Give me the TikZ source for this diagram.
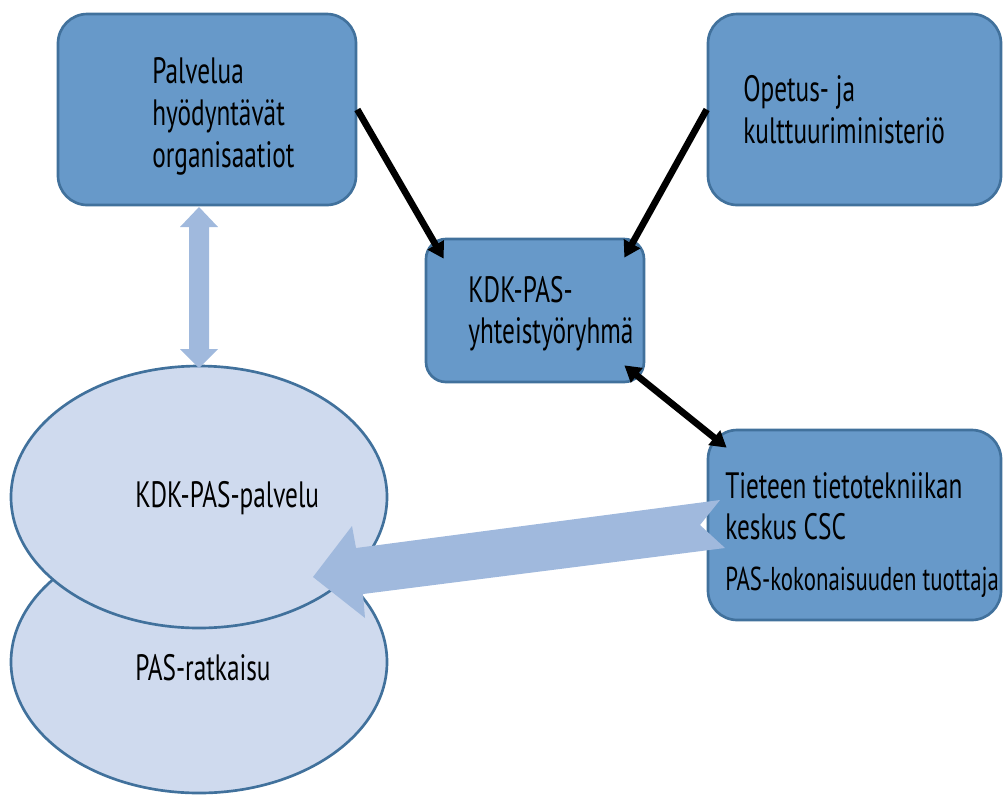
\documentclass[tikz,border=0pt]{standalone}
\usepackage{fontspec}
\setmainfont{PT Sans}[FakeStretch=0.69]
\usetikzlibrary{arrows.meta,shapes.geometric}
\definecolor{boxfill}{RGB}{103,153,201}
\definecolor{boxline}{RGB}{65,113,156}
\definecolor{ellfill}{RGB}{207,218,238}
\definecolor{blockfill}{RGB}{160,185,221}
\tikzset{
  box/.style={draw=boxline, line width=2pt, fill=boxfill, rounded corners=22pt, inner sep=0pt},
  smallbox/.style={box, rounded corners=15pt},
  ell/.style={ellipse, draw=boxline, line width=2pt, fill=ellfill, inner sep=0pt, minimum width=376*0.75pt, minimum height=262*0.75pt},
  lbl/.style={anchor=base west, inner sep=0pt, font=\fontsize{27.5pt}{32pt}\selectfont, text=black},
  slbl/.style={lbl, font=\fontsize{24.8pt}{29pt}\selectfont},
  conn/.style={line width=5pt, black, -{Triangle[length=12pt,width=13.5pt]}},
  dconn/.style={line width=5pt, black, {Triangle[length=12pt,width=13.5pt]}-{Triangle[length=12pt,width=13.5pt]}},
  block/.style={fill=blockfill, draw=none}
}
\begin{document}
\begin{tikzpicture}[x=0.75pt, y=-0.75pt]
\useasboundingbox (0,0) rectangle (1003,794);
% ellipses
\node[ell] (sol) at (199,662) {};
\node[ell] (svc) at (199,497) {};
% boxes
\node[box, minimum width=298*0.75pt, minimum height=191*0.75pt] (org) at (207,109.5) {};
\node[box, minimum width=293*0.75pt, minimum height=191*0.75pt] (okm) at (854.5,109.5) {};
\node[smallbox, minimum width=218*0.75pt, minimum height=143*0.75pt] (grp) at (535,310.5) {};
\node[box, minimum width=293*0.75pt, minimum height=190*0.75pt] (csc) at (854.5,525) {};
% texts
\node[lbl] (t1a) at (152,83) {Palvelua};
\node[lbl] (t1b) at (152,125) {hyödyntävät};
\node[lbl] (t1c) at (152,167) {organisaatiot};
\node[lbl] (t2a) at (743,101) {Opetus- ja};
\node[lbl] (t2b) at (743,143) {kulttuuriministeriö};
\node[lbl] (t3a) at (468,302) {KDK-PAS-};
\node[lbl] (t3b) at (468,343) {yhteistyöryhmä};
\node[lbl] (t4a) at (725,498) {Tieteen tietotekniikan};
\node[lbl] (t4b) at (725,539) {keskus CSC};
\node[slbl] (t4c) at (725,590) {PAS-kokonaisuuden tuottaja};
\node[lbl] (t5) at (135,507) {KDK-PAS-palvelu};
\node[lbl] (t6) at (135,680) {PAS-ratkaisu};
% black connectors
\coordinate (a1s) at (org.east);
\coordinate (a1e) at ([shift={(19,21)}]grp.north west);
\coordinate (a2s) at (okm.west);
\coordinate (a2e) at ([shift={(-21,20)}]grp.north east);
\coordinate (a3s) at ([shift={(-21,-18)}]grp.south east);
\coordinate (a3e) at ([shift={(20,19)}]csc.north west);
\draw[conn] (a1s) -- (a1e);
\draw[conn] (a2s) -- (a2e);
\draw[dconn] (a3s) -- (a3e);
% vertical double block arrow
\fill[block] (199,207) -- (218,227) -- (209,227) -- (209,349) -- (218,349) -- (199,368)
  -- (180,349) -- (189,349) -- (189,227) -- (180,227) -- cycle;
% wide block arrow
\fill[block] (720,500) -- (700,525) -- (725,548) -- (363,594) -- (365,618) -- (313,577)
  -- (352,526) -- (356,548) -- cycle;
\end{tikzpicture}
\end{document}
